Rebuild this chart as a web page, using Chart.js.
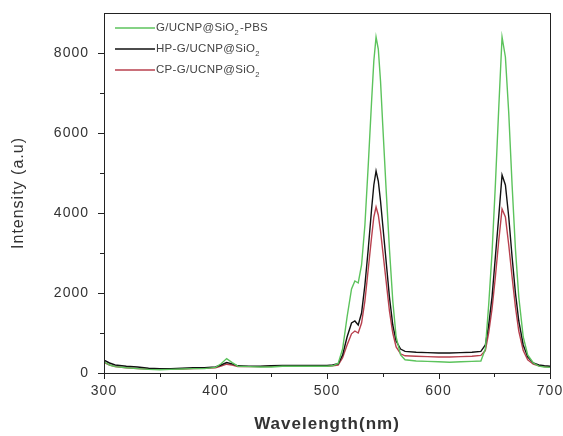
<!DOCTYPE html>
<html>
<head>
<meta charset="utf-8">
<script src="https://cdn.jsdelivr.net/npm/chart.js@4.4.1/dist/chart.umd.min.js"></script>
<style>
  html, body { margin: 0; padding: 0; background: #fff; }
  #wrap { width: 563px; height: 436px; }
</style>
</head>
<body>
<div id="wrap"><canvas id="c" width="563" height="436"></canvas></div>
<script>
// 波长 (nm)
const wavelengths = [300,305,310,320,330,340,350,360,370,380,390,400,405,410,415,420,430,440,450,460,470,480,490,500,505,510,514,518,522,525,528,531,534,537,540,542,544,546,548,550,553,556,559,562,566,570,580,590,600,610,620,630,638,642,645,648,651,654,657,660,663,666,669,672,676,680,685,690,695,700];

// 各样品强度
const pbsValues = [280,200,160,130,110,90,80,90,100,110,110,140,230,360,260,170,160,150,150,170,170,170,170,170,180,240,600,1400,2100,2300,2250,2700,3700,5200,6800,7800,8400,8100,7300,6200,4600,3100,1800,900,450,330,300,290,280,270,280,290,300,600,1700,3000,4700,6600,8400,7900,6500,4700,3100,1900,900,450,250,170,150,140];
const hpValues = [320,250,200,170,150,120,110,110,120,130,130,150,200,260,230,180,170,170,180,190,190,190,190,190,200,230,450,900,1250,1300,1200,1500,2200,3100,4100,4700,5050,4800,4300,3700,2800,1900,1200,800,600,540,520,510,500,500,510,520,540,700,1200,1900,2900,3900,4950,4700,3900,2900,2000,1300,700,400,250,200,180,170];
const cpValues = [260,200,160,130,110,100,90,100,100,110,120,130,170,220,200,160,160,160,170,170,170,170,170,170,180,200,380,700,980,1050,1000,1250,1800,2600,3400,3900,4150,3950,3550,3050,2300,1550,1000,650,480,430,420,410,400,400,410,420,440,560,1000,1600,2400,3300,4100,3900,3200,2400,1650,1050,560,330,220,180,160,150];

const seriesNames = ['G/UCNP@SiO₂-PBS', 'HP-G/UCNP@SiO₂', 'CP-G/UCNP@SiO₂'];
const seriesColors = ['#5cc35c', '#111111', '#b8404e'];
const xTicks = [300, 400, 500, 600, 700];
const yTicks = [0, 2000, 4000, 6000, 8000];

const FONT = '"Liberation Sans", Arial, sans-serif';

function toPoints(values) {
    return wavelengths.map((w, i) => ({ x: w, y: values[i] }));
}

// 文字略加字距
const spacingPlugin = {
    id: 'spacing',
    beforeLayout(chart) { chart.ctx.letterSpacing = '1px'; },
    beforeDraw(chart) { chart.ctx.letterSpacing = '1px'; }
};

// 坐标框与刻度线
const framePlugin = {
    id: 'frame',
    afterDraw(chart) {
        const ctx = chart.ctx;
        const a = chart.chartArea;
        const xs = chart.scales.x, ys = chart.scales.y;
        ctx.save();
        ctx.strokeStyle = '#222';
        ctx.lineWidth = 1;
        ctx.strokeRect(Math.round(a.left) + 0.5, Math.round(a.top) + 0.5,
            Math.round(a.right - a.left), Math.round(a.bottom - a.top));
        ctx.beginPath();
        for (let v = 300; v <= 700; v += 50) {
            const px = Math.round(xs.getPixelForValue(v)) + 0.5;
            const len = v % 100 === 0 ? 6 : 4;
            ctx.moveTo(px, a.bottom);
            ctx.lineTo(px, a.bottom + len);
        }
        for (let v = 0; v <= 8000; v += 1000) {
            const py = Math.round(ys.getPixelForValue(v)) + 0.5;
            const len = v % 2000 === 0 ? 6 : 4;
            ctx.moveTo(a.left, py);
            ctx.lineTo(a.left - len, py);
        }
        ctx.stroke();
        ctx.restore();
    }
};

// 图例（带下标）
const legendPlugin = {
    id: 'innerLegend',
    afterDatasetsDraw(chart) {
        const ctx = chart.ctx;
        const rows = [28, 49, 70];
        ctx.save();
        ctx.letterSpacing = '0.3px';
        seriesNames.forEach((name, i) => {
            const y = rows[i];
            ctx.strokeStyle = seriesColors[i];
            ctx.lineWidth = 1.5;
            ctx.beginPath();
            ctx.moveTo(115, y);
            ctx.lineTo(155, y);
            ctx.stroke();
            ctx.fillStyle = '#444';
            ctx.textBaseline = 'middle';
            let x = 156;
            const parts = name.split('₂');
            parts.forEach((p, j) => {
                ctx.font = '11.5px ' + FONT;
                ctx.fillText(p, x, y);
                x += ctx.measureText(p).width;
                if (j < parts.length - 1) {
                    ctx.font = '7.5px ' + FONT;
                    ctx.fillText('2', x, y + 5);
                    x += ctx.measureText('2').width + 1;
                }
            });
        });
        ctx.restore();
    }
};

new Chart(document.getElementById('c'), {
    type: 'line',
    data: {
        datasets: [
            { label: seriesNames[0], data: toPoints(pbsValues), borderColor: seriesColors[0] },
            { label: seriesNames[1], data: toPoints(hpValues), borderColor: seriesColors[1] },
            { label: seriesNames[2], data: toPoints(cpValues), borderColor: seriesColors[2] }
        ]
    },
    options: {
        responsive: false,
        animation: false,
        elements: {
            line: { borderWidth: 1.4, tension: 0, fill: false },
            point: { radius: 0 }
        },
        layout: { padding: { top: 13, right: 13, left: 0, bottom: 0 } },
        plugins: {
            legend: { display: false },
            tooltip: { enabled: false }
        },
        scales: {
            x: {
                type: 'linear',
                min: 300,
                max: 700,
                afterFit: s => { s.height = 63; s.paddingLeft = 0; s.paddingRight = 0; },
                afterBuildTicks: s => { s.ticks = xTicks.map(v => ({ value: v })); },
                grid: { display: true, drawOnChartArea: false, drawTicks: false },
                border: { display: false },
                ticks: {
                    padding: 10,
                    color: '#333',
                    callback: v => String(v),
                    font: { family: FONT, size: 14 }
                },
                title: {
                    display: true,
                    text: 'Wavelength(nm)',
                    color: '#333',
                    padding: { top: 0, bottom: 1 },
                    font: { family: FONT, size: 17, weight: 'bold' }
                }
            },
            y: {
                min: 0,
                max: 9000,
                afterFit: s => { s.width = 104; s.paddingTop = 0; s.paddingBottom = 0; },
                afterBuildTicks: s => { s.ticks = yTicks.map(v => ({ value: v })); },
                grid: { display: true, drawOnChartArea: false, drawTicks: false },
                border: { display: false },
                ticks: {
                    padding: 15,
                    color: '#333',
                    callback: v => String(v),
                    font: { family: FONT, size: 14 }
                },
                title: {
                    display: true,
                    text: 'Intensity (a.u)',
                    color: '#333',
                    padding: { top: 9, bottom: 0 },
                    font: { family: FONT, size: 16 }
                }
            }
        }
    },
    plugins: [spacingPlugin, framePlugin, legendPlugin]
});
</script>
</body>
</html>
